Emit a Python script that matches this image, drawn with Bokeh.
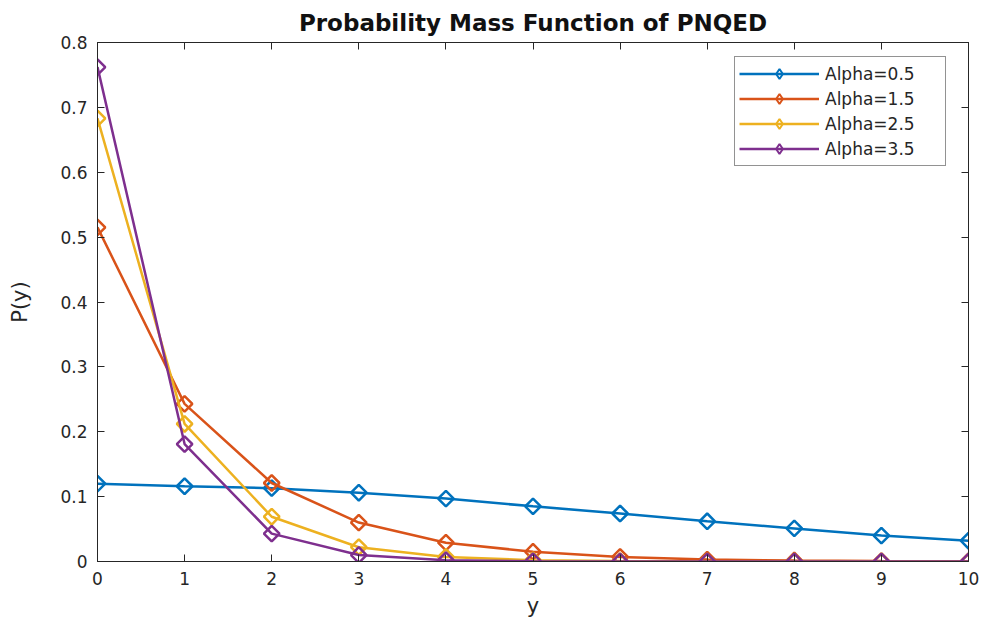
import math
from bokeh.plotting import figure
from bokeh.models import LinearAxis, FixedTicker, Range1d, Legend, LegendItem
from bokeh.embed import file_html
from bokeh.resources import INLINE

y_vals = [0, 1, 2, 3, 4, 5, 6, 7, 8, 9, 10]
alpha_labels = ["Alpha=0.5", "Alpha=1.5", "Alpha=2.5", "Alpha=3.5"]
p_alpha05 = [0.120, 0.116, 0.113, 0.106, 0.097, 0.085, 0.074, 0.062, 0.051, 0.040, 0.032]
p_alpha15 = [0.515, 0.243, 0.121, 0.060, 0.029, 0.015, 0.007, 0.003, 0.0015, 0.0007, 0.0003]
p_alpha25 = [0.683, 0.212, 0.069, 0.022, 0.007, 0.002, 0.0007, 0.0002, 0.0001, 0.0, 0.0]
p_alpha35 = [0.762, 0.181, 0.043, 0.010, 0.002, 0.0005, 0.0001, 0.0, 0.0, 0.0, 0.0]
series = [p_alpha05, p_alpha15, p_alpha25, p_alpha35]
colors = ["#0072BD", "#D95319", "#EDB120", "#7E2F8E"]
x_ticks = list(range(0, 11))
y_ticks = [0, 0.1, 0.2, 0.3, 0.4, 0.5, 0.6, 0.7, 0.8]

FONT = "DejaVu Sans"
TXT = "#262626"

p = figure(width=979, height=620, output_backend="svg", toolbar_location=None,
           x_range=Range1d(0, 10), y_range=Range1d(0, 0.8),
           min_border_left=97, min_border_right=11, min_border_top=42, min_border_bottom=58)
p.title.text = "Probability Mass Function of PNQED"
p.title.align = "center"
p.title.text_font = FONT
p.title.text_font_size = "23px"
p.title.text_font_style = "bold"
p.title.text_color = "#111111"
p.title.standoff = 13

p.xgrid.visible = False
p.ygrid.visible = False
p.outline_line_color = TXT
p.outline_line_width = 1

def style_axis(ax, labels=True):
    ax.axis_line_color = TXT
    ax.major_tick_line_color = TXT
    ax.major_tick_in = 7
    ax.major_tick_out = 0
    ax.minor_tick_line_color = None
    ax.major_label_text_font = FONT
    ax.major_label_text_font_size = "17px"
    ax.major_label_text_color = TXT
    ax.major_label_standoff = 10
    if not labels:
        ax.major_label_text_font_size = "0px"
        ax.major_label_text_color = None

style_axis(p.xaxis[0])
style_axis(p.yaxis[0])
p.xaxis[0].ticker = FixedTicker(ticks=x_ticks)
p.yaxis[0].ticker = FixedTicker(ticks=y_ticks)
p.yaxis[0].major_label_overrides = {0: "0"}
p.xaxis[0].axis_label = "y"
p.yaxis[0].axis_label = "P(y)"
for ax in (p.xaxis[0], p.yaxis[0]):
    ax.axis_label_text_font = FONT
    ax.axis_label_text_font_size = "21px"
    ax.axis_label_text_font_style = "normal"
    ax.axis_label_text_color = TXT
p.xaxis[0].axis_label_standoff = 6
p.yaxis[0].axis_label_standoff = 25

top = LinearAxis(ticker=FixedTicker(ticks=x_ticks))
right = LinearAxis(ticker=FixedTicker(ticks=y_ticks))
style_axis(top, labels=False)
style_axis(right, labels=False)
top.major_label_standoff = 0
right.major_label_standoff = 0
p.add_layout(top, "above")
p.add_layout(right, "right")

items = []
for lab, vals, c in zip(alpha_labels, series, colors):
    r1 = p.line(y_vals, vals, line_color=c, line_width=2.5)
    p.scatter(y_vals, vals, marker="square", angle=math.pi / 4, size=11,
              line_color=c, line_width=2.5, fill_color=None)
    # legend-only marker, placed outside the visible ranges
    r_leg = p.scatter([-50], [-50], marker="diamond", size=17,
                      line_color=c, line_width=2, fill_color=None)
    items.append(LegendItem(label=lab, renderers=[r1, r_leg]))

legend = Legend(items=items, location=(637, 395))
legend.label_text_font = FONT
legend.label_text_font_size = "17px"
legend.label_text_color = TXT
legend.glyph_width = 80
legend.glyph_height = 25
legend.label_height = 25
legend.label_width = 116
legend.spacing = 0
legend.padding = 4
legend.margin = 0
legend.label_standoff = 6
legend.border_line_color = TXT
legend.border_line_width = 1
p.add_layout(legend)

open("out.html", "w").write(file_html(p, INLINE))
